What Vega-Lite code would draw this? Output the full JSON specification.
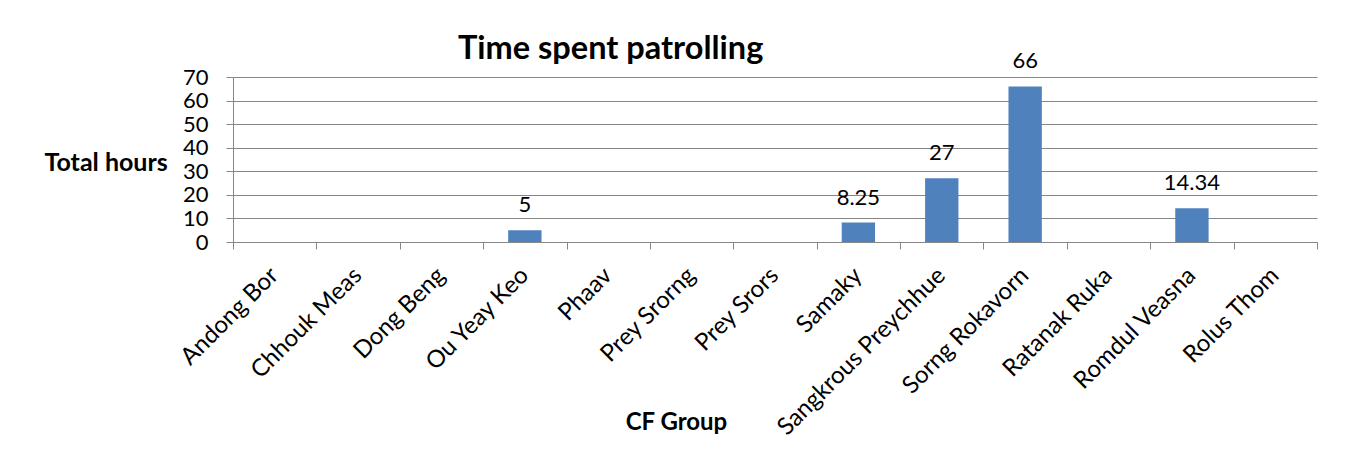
{
  "$schema": "https://vega.github.io/schema/vega-lite/v6.json",
  "width": 1084,
  "height": 165,
  "autosize": {"type": "none"},
  "padding": {"left": 233, "top": 77, "right": 32, "bottom": 220},
  "background": "white",
  "title": {
    "text": "Time spent patrolling",
    "anchor": "start",
    "frame": "group",
    "dx": 225,
    "dy": 19,
    "fontSize": 32.5,
    "font": "Lato",
    "fontWeight": "bold",
    "color": "black"
  },
  "data": {
    "values": [
      {"group": "Andong Bor", "hours": 0},
      {"group": "Chhouk Meas", "hours": 0},
      {"group": "Dong Beng", "hours": 0},
      {"group": "Ou Yeay Keo", "hours": 5},
      {"group": "Phaav", "hours": 0},
      {"group": "Prey Srorng", "hours": 0},
      {"group": "Prey Srors", "hours": 0},
      {"group": "Samaky", "hours": 8.25},
      {"group": "Sangkrous Preychhue", "hours": 27},
      {"group": "Sorng Rokavorn", "hours": 66},
      {"group": "Ratanak Ruka", "hours": 0},
      {"group": "Romdul Veasna", "hours": 14.34},
      {"group": "Rolus Thom", "hours": 0}
    ]
  },
  "encoding": {
    "x": {
      "field": "group",
      "type": "nominal",
      "sort": null,
      "scale": {"paddingInner": 0, "paddingOuter": 0},
      "axis": {
        "title": "CF Group",
        "titleFont": "Lato",
        "titleFontSize": 24,
        "titleFontWeight": "bold",
        "titleColor": "black",
        "titleX": 443,
        "titleY": 180,
        "titleBaseline": "middle",
        "titleAlign": "center",
        "labelAngle": -45,
        "labelAlign": "right",
        "labelBaseline": "top",
        "labelFont": "Lato",
        "labelFontSize": 24,
        "labelColor": "black",
        "labelPadding": 14,
        "labelOffset": -9,
        "tickBand": "extent",
        "tickSize": 7,
        "tickColor": "#868686",
        "domainColor": "#868686",
        "labelOverlap": false,
        "labelLimit": 0
      }
    },
    "y": {
      "field": "hours",
      "type": "quantitative",
      "scale": {"domain": [0, 70], "nice": false},
      "axis": {
        "values": [0, 10, 20, 30, 40, 50, 60, 70],
        "title": "Total hours",
        "titleAngle": 0,
        "titleAlign": "left",
        "titleBaseline": "middle",
        "titleX": -189,
        "titleY": 85,
        "titleFont": "Lato",
        "titleFontSize": 25,
        "titleFontWeight": "bold",
        "titleColor": "black",
        "labelFont": "Lato",
        "labelFontSize": 22,
        "labelColor": "black",
        "labelPadding": 18,
        "labelOverlap": false,
        "tickSize": 7,
        "tickColor": "#868686",
        "domainColor": "#868686",
        "gridColor": "#868686",
        "gridOpacity": 1
      }
    }
  },
  "layer": [
    {"mark": {"type": "bar", "color": "#4F81BD", "width": {"band": 0.4}}},
    {
      "transform": [{"filter": "datum.hours > 0"}],
      "mark": {"type": "text", "font": "Lato", "fontSize": 22, "baseline": "alphabetic", "dy": -18, "color": "black"},
      "encoding": {"text": {"field": "hours", "type": "quantitative"}}
    }
  ],
  "config": {"view": {"stroke": null}}
}
